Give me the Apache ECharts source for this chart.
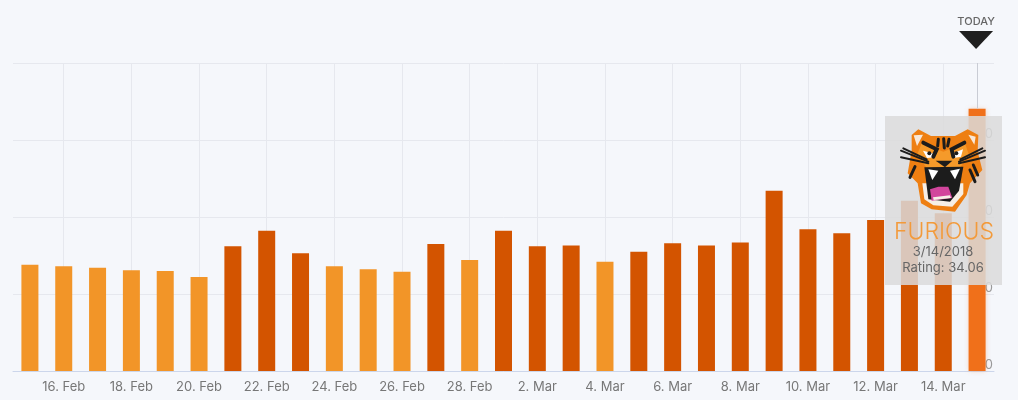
<!DOCTYPE html>
<html>
<head>
<meta charset="utf-8">
<style>
  html, body { margin: 0; background: #f5f7fb; }
  #chart { width: 1018px; height: 400px; }
</style>
<script src="https://cdn.jsdelivr.net/npm/echarts@6/dist/echarts.min.js"></script>
</head>
<body>
<div id="chart"></div>
<script>
const days = ['15. Feb', '16. Feb', '17. Feb', '18. Feb', '19. Feb', '20. Feb', '21. Feb', '22. Feb', '23. Feb', '24. Feb',
  '25. Feb', '26. Feb', '27. Feb', '28. Feb', '1. Mar', '2. Mar', '3. Mar', '4. Mar', '5. Mar', '6. Mar',
  '7. Mar', '8. Mar', '9. Mar', '10. Mar', '11. Mar', '12. Mar', '13. Mar', '14. Mar', '15. Mar'];
const ratings = [13.8, 13.6, 13.4, 13.1, 13.0, 12.2, 16.2, 18.2, 15.3, 13.6,
  13.2, 12.9, 16.5, 14.4, 18.2, 16.2, 16.3, 14.2, 15.5, 16.6,
  16.3, 16.7, 23.4, 18.4, 17.9, 19.6, 22.1, 20.5, 34.06];
const yTicks = [0, 10, 20, 30, 40];

const FONT = 'Inter, "Open Sans", sans-serif';
const LIGHT = '#f29528';
const DARK = '#d35400';
const HOVER = '#f0701a';
const DARK_FROM = 15; // darker bars from this rating up
const today = days.length - 1;

// tiger head, outlines (origin 895,120, scale 1/3)
function tp(pts) {
  return pts.map(p => [895 + p[0] / 3, 120 + p[1] / 3]);
}
function poly(pts, fill) {
  return { type: 'polygon', z: 22, silent: true, shape: { points: tp(pts) }, style: { fill: fill } };
}
function stroke(pts, width) {
  return { type: 'polyline', z: 23, silent: true, shape: { points: tp(pts) },
    style: { stroke: '#1c1c1c', lineWidth: width, fill: null, lineCap: 'round' } };
}
const tiger = [
  poly([[70,28],[108,48],[180,48],[218,28],[250,45],[248,95],[262,150],[225,190],[215,225],[180,275],[110,268],[78,250],[68,190],[38,160],[50,90],[50,45]], '#ee7f12'),
  poly([[82,190],[205,190],[205,222],[172,260],[115,256],[88,238]], '#f6efe6'),
  poly([[80,70],[145,95],[210,70],[222,105],[190,150],[100,150],[66,105]], '#f59a2a'),
  poly([[56,46],[84,44],[66,78]], '#f8e8d8'),
  poly([[220,44],[242,50],[238,74]], '#f8e8d8'),
  poly([[84,92],[122,102],[118,112],[96,114]], '#ffffff'),
  poly([[168,102],[204,88],[198,110],[176,114]], '#ffffff'),
  poly([[88,142],[205,140],[192,212],[165,245],[100,238]], '#1c1c1c'),
  poly([[105,208],[130,200],[160,200],[172,234],[110,242]], '#d2459c'),
  poly([[114,232],[165,226],[168,234],[116,240]], '#f6efe6'),
  poly([[100,148],[130,152],[112,180]], '#ffffff'),
  poly([[165,152],[195,146],[180,178]], '#ffffff'),
  poly([[122,122],[172,122],[150,142]], '#1c1c1c'),
  stroke([[85,68],[125,88],[115,110]], 4),
  stroke([[208,68],[170,88],[175,110]], 4),
  stroke([[130,58],[128,78]], 3),
  stroke([[146,56],[148,84]], 3),
  stroke([[162,58],[158,78]], 3),
  stroke([[18,92],[100,125]], 2),
  stroke([[18,112],[100,130]], 2),
  stroke([[25,85],[95,118]], 2),
  stroke([[270,92],[192,125]], 2),
  stroke([[270,112],[192,130]], 2),
  stroke([[262,85],[196,118]], 2),
  stroke([[60,140],[45,172]], 3),
  stroke([[235,135],[248,165]], 3),
  stroke([[225,150],[240,185]], 3),
  { type: 'circle', z: 24, silent: true, shape: { cx: 895 + 103 / 3, cy: 120 + 100 / 3, r: 2 }, style: { fill: '#1c1c1c' } },
  { type: 'circle', z: 24, silent: true, shape: { cx: 895 + 184 / 3, cy: 120 + 100 / 3, r: 2 }, style: { fill: '#1c1c1c' } }
];

const chart = echarts.init(document.getElementById('chart'));
chart.setOption({
  animation: false,
  backgroundColor: '#f5f7fb',
  grid: { left: 13, right: 24, top: 63, bottom: 29 },
  xAxis: {
    type: 'category',
    data: days,
    axisLine: { lineStyle: { color: '#ccd6eb', width: 1 } },
    axisTick: { alignWithLabel: true, length: 10, interval: i => i % 2 === 1, lineStyle: { color: '#ccd6eb' } },
    axisLabel: { interval: i => i % 2 === 1, color: '#777', fontSize: 13, fontFamily: FONT, margin: 10 },
    splitLine: { show: true, alignWithLabel: true, interval: i => i % 2 === 1, lineStyle: { color: '#e6e8ee', width: 1 } }
  },
  yAxis: {
    type: 'value',
    position: 'right',
    min: yTicks[0],
    max: yTicks[yTicks.length - 1],
    interval: 10,
    axisLine: { show: false },
    axisTick: { show: false },
    axisLabel: {
      inside: true, showMaxLabel: false, color: '#999', fontSize: 13, fontFamily: FONT,
      align: 'right', verticalAlign: 'bottom', margin: 1, lineHeight: 11
    },
    splitLine: { lineStyle: { color: '#e6e8ee', width: 1 } }
  },
  series: [{
    type: 'bar',
    barWidth: 17,
    data: ratings.map((v, i) => ({
      value: v,
      itemStyle: i === today
        ? { color: HOVER, shadowBlur: 5, shadowColor: 'rgba(240,112,26,0.35)' }
        : { color: v >= DARK_FROM ? DARK : LIGHT }
    })),
    markLine: {
      silent: true, symbol: 'none', label: { show: false },
      lineStyle: { color: '#c9ccd4', type: 'solid', width: 1 },
      data: [[{ coord: [today, yTicks[yTicks.length - 1]] }, { coord: [today, ratings[today]] }]]
    },
    markPoint: {
      silent: true,
      data: [{
        coord: [today, yTicks[yTicks.length - 1]],
        symbol: 'triangle', symbolRotate: 180, symbolSize: [34, 18], symbolOffset: [-1, -23],
        itemStyle: { color: '#1f1f1f' },
        label: { show: true, position: 'top', distance: 4, formatter: 'TODAY', color: '#666', fontSize: 11, fontWeight: 500, fontFamily: FONT }
      }]
    }
  }],
  graphic: [
    { type: 'rect', z: 20, silent: true, shape: { x: 885, y: 116, width: 117, height: 169 }, style: { fill: 'rgba(218,218,218,0.85)' } },
    ...tiger,
    { type: 'text', z: 25, silent: true, x: 944, y: 232, style: { text: 'FURIOUS', fill: '#f39a3a', font: '300 23px ' + FONT, align: 'center', verticalAlign: 'middle' } },
    { type: 'text', z: 25, silent: true, x: 943, y: 252, style: { text: '3/14/2018', fill: '#666', font: '13px ' + FONT, align: 'center', verticalAlign: 'middle' } },
    { type: 'text', z: 25, silent: true, x: 943, y: 268, style: { text: 'Rating: 34.06', fill: '#666', font: '13px ' + FONT, align: 'center', verticalAlign: 'middle' } }
  ]
});
</script>
</body>
</html>
